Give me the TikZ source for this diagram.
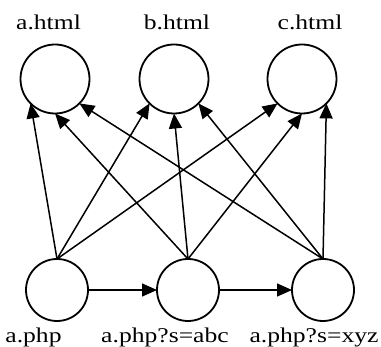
\documentclass[tikz,border=0pt]{standalone}
\usepackage{fontspec}
\setmainfont{Liberation Serif}[FakeStretch=1.22]
\usetikzlibrary{arrows.meta}
\begin{document}
\begin{tikzpicture}[x=1pt,y=-1pt,
  topc/.style={circle,draw,line width=1.8pt,minimum size=69pt,inner sep=0pt,outer sep=0pt},
  botc/.style={circle,draw,line width=1.8pt,minimum size=62pt,inner sep=0pt,outer sep=0pt},
  edge/.style={line width=1.5pt,-{Triangle[length=15pt,width=13pt]}},
  lbl/.style={inner sep=0pt,anchor=base,font=\fontsize{21}{25}\selectfont}]
\useasboundingbox (0,0) rectangle (381,347);
\node[topc] (ah) at (55,79) {};
\node[topc] (bh) at (174,79) {};
\node[topc] (ch) at (302,79) {};
\node[botc] (ap) at (57,290) {};
\node[botc] (ab) at (188,290) {};
\node[botc] (ax) at (323,290) {};
\node[lbl] (lah) at (48.5,30) {a.html};
\node[lbl] (lbh) at (177,30) {b.html};
\node[lbl] (lch) at (310,30) {c.html};
\node[lbl] (lap) at (33.5,343) {a.php};
\node[lbl] (lab) at (165,343) {a.php?s=abc};
\node[lbl] (lax) at (314,343) {a.php?s=xyz};
\draw[edge] (ap.north) -- (ah.south west);
\draw[edge] (ap.north) -- (bh.south west);
\draw[edge] (ap.north) -- (ch.south west);
\draw[edge] (ab.north) -- (ah.south);
\draw[edge] (ab.north) -- (bh.south);
\draw[edge] (ab.north) -- (ch.south);
\draw[edge] (ax.north) -- (ah.south east);
\draw[edge] (ax.north) -- (bh.south east);
\draw[edge] (ax.north) -- (ch.south east);
\draw[edge] (ap.east) -- (ab.west);
\draw[edge] (ab.east) -- (ax.west);
\end{tikzpicture}
\end{document}
